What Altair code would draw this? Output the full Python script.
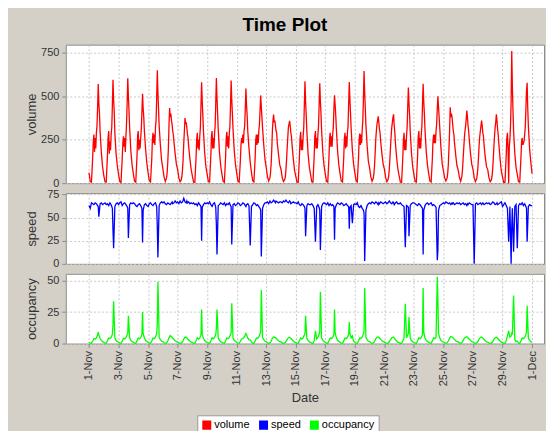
import altair as alt
import pandas as pd

# sample hours within each day (Nov 2010)
HOURS_VOLUME = [0, 2, 4, 6, 7, 8, 9, 10, 11, 12, 13, 14, 15, 16, 17, 18, 20, 22]
HOURS = [0, 2, 4, 6, 8, 10, 12, 14, 15, 16, 18, 20, 22]

VOLUME = [
    [60, 10, 5, 150, 240, 280, 180, 260, 200, 290, 330, 440, 570, 460, 400, 300, 180, 95],
    [45, 8, 6, 160, 260, 300, 170, 240, 190, 280, 320, 450, 595, 480, 410, 290, 170, 100],
    [50, 10, 4, 145, 230, 270, 210, 260, 180, 270, 340, 460, 603, 500, 420, 320, 185, 105],
    [55, 12, 6, 155, 270, 300, 190, 250, 200, 260, 310, 410, 515, 430, 380, 300, 195, 115],
    [60, 15, 7, 140, 250, 290, 230, 280, 220, 320, 360, 490, 650, 520, 430, 330, 220, 130],
    [85, 35, 10, 30, 60, 120, 200, 330, 432, 380, 400, 360, 340, 300, 280, 240, 170, 110],
    [80, 30, 8, 20, 40, 80, 140, 230, 300, 375, 340, 350, 320, 280, 260, 210, 140, 80],
    [40, 6, 5, 150, 250, 290, 200, 250, 190, 270, 320, 450, 580, 470, 390, 300, 175, 95],
    [50, 9, 6, 160, 270, 300, 200, 260, 200, 280, 330, 460, 605, 490, 400, 310, 180, 100],
    [52, 10, 5, 150, 260, 295, 210, 270, 200, 285, 330, 450, 590, 480, 400, 315, 190, 110],
    [58, 12, 6, 130, 220, 260, 230, 280, 230, 300, 330, 430, 545, 450, 390, 300, 200, 120],
    [62, 14, 7, 145, 250, 280, 220, 280, 230, 300, 340, 420, 505, 440, 380, 320, 220, 135],
    [90, 38, 12, 30, 60, 110, 190, 300, 360, 395, 350, 360, 330, 300, 290, 230, 165, 105],
    [80, 32, 9, 20, 35, 75, 130, 200, 260, 320, 340, 358, 330, 290, 270, 220, 140, 75],
    [40, 6, 5, 155, 260, 295, 190, 250, 190, 270, 320, 455, 587, 470, 390, 300, 170, 95],
    [50, 8, 6, 160, 270, 300, 200, 260, 200, 280, 330, 450, 575, 475, 400, 305, 175, 100],
    [52, 10, 6, 150, 260, 290, 210, 270, 210, 280, 320, 430, 505, 450, 390, 310, 185, 105],
    [55, 11, 6, 150, 255, 290, 200, 270, 210, 290, 330, 460, 582, 480, 400, 315, 190, 110],
    [60, 14, 7, 145, 250, 285, 220, 280, 230, 310, 360, 490, 645, 520, 430, 335, 215, 125],
    [88, 36, 11, 28, 55, 100, 170, 250, 300, 340, 360, 385, 350, 310, 290, 240, 170, 110],
    [82, 33, 9, 20, 40, 80, 140, 210, 270, 320, 350, 380, 396, 330, 290, 230, 145, 80],
    [42, 7, 5, 150, 250, 290, 190, 250, 190, 270, 320, 440, 550, 460, 390, 300, 175, 95],
    [50, 9, 6, 155, 265, 300, 200, 260, 200, 280, 330, 455, 572, 470, 400, 310, 185, 105],
    [55, 11, 6, 140, 240, 280, 230, 280, 230, 300, 340, 430, 500, 440, 380, 320, 200, 110],
    [70, 30, 12, 30, 60, 110, 200, 300, 437, 380, 400, 380, 340, 300, 280, 230, 160, 100],
    [75, 32, 10, 40, 80, 140, 200, 260, 300, 330, 370, 418, 380, 330, 300, 250, 170, 110],
    [80, 30, 9, 25, 50, 90, 150, 220, 270, 300, 330, 360, 330, 290, 270, 220, 150, 95],
    [78, 30, 8, 20, 40, 80, 140, 210, 270, 320, 350, 396, 360, 310, 280, 230, 140, 70],
    [35, 5, 5, 160, 260, 290, 200, 0, 210, 250, 330, 470, 760, 560, 420, 300, 170, 90],
    [50, 8, 6, 150, 240, 260, 220, 230, 240, 280, 320, 430, 530, 578, 430, 330, 200, 120],
]
VOLUME_END = 55

SPEED = [
    [63, 60, 66, 65, 64, 66, 65, 63, 62, 51, 65, 66, 64],
    [65, 66, 64, 65, 63, 66, 64, 60, 36, 17, 62, 65, 66],
    [64, 66, 67, 63, 65, 66, 64, 62, 60, 28, 64, 66, 65],
    [66, 65, 63, 62, 64, 65, 63, 60, 23, 58, 64, 65, 63],
    [62, 65, 66, 64, 63, 65, 66, 62, 40, 7, 63, 66, 67],
    [66, 67, 65, 64, 66, 65, 64, 66, 67, 65, 66, 68, 66],
    [67, 65, 68, 66, 67, 71, 67, 66, 68, 66, 67, 65, 66],
    [65, 66, 64, 65, 63, 66, 64, 62, 25, 61, 64, 66, 65],
    [66, 65, 67, 64, 62, 65, 66, 61, 42, 10, 63, 64, 66],
    [65, 64, 66, 63, 65, 64, 66, 63, 62, 21, 64, 65, 63],
    [64, 66, 65, 63, 64, 66, 65, 63, 62, 64, 65, 63, 20],
    [62, 64, 66, 65, 63, 64, 62, 60, 58, 8, 60, 64, 66],
    [66, 67, 65, 68, 66, 67, 69, 67, 66, 68, 67, 66, 67],
    [67, 66, 68, 67, 69, 67, 66, 68, 67, 65, 66, 67, 66],
    [66, 65, 67, 64, 63, 65, 64, 62, 60, 30, 63, 65, 64],
    [64, 65, 63, 60, 24, 62, 64, 61, 58, 15, 62, 65, 66],
    [65, 64, 66, 63, 65, 63, 64, 62, 26, 60, 64, 66, 65],
    [64, 66, 65, 63, 64, 65, 63, 62, 38, 61, 63, 44, 64],
    [65, 64, 66, 62, 61, 63, 60, 58, 55, 3, 58, 63, 65],
    [66, 65, 67, 66, 65, 67, 66, 64, 66, 65, 67, 66, 65],
    [66, 67, 65, 66, 68, 66, 65, 67, 66, 64, 66, 67, 65],
    [65, 66, 64, 63, 62, 18, 63, 62, 61, 30, 63, 65, 66],
    [66, 65, 64, 63, 65, 64, 62, 60, 10, 58, 63, 65, 66],
    [64, 65, 66, 63, 64, 63, 61, 4, 15, 58, 63, 64, 65],
    [66, 65, 67, 66, 65, 66, 64, 66, 65, 66, 64, 65, 66],
    [65, 66, 64, 65, 66, 64, 65, 63, 65, 64, 66, 65, 64],
    [64, 0, 65, 66, 64, 65, 66, 64, 65, 66, 64, 65, 66],
    [65, 66, 64, 65, 67, 66, 64, 65, 66, 64, 65, 66, 67],
    [62, 64, 66, 63, 60, 24, 62, 0, 40, 60, 13, 62, 64],
    [17, 63, 65, 64, 66, 63, 65, 62, 60, 24, 62, 64, 63],
]
SPEED_END = 63

OCCUPANCY = [
    [1, 0.3, 0.2, 2, 4, 3.5, 4.5, 7, 9, 7, 4, 2.5, 1.5],
    [1, 0.3, 0.2, 2.2, 4.5, 3.8, 4.8, 7.5, 15, 33.5, 4.5, 2.5, 1.5],
    [1, 0.3, 0.2, 2, 4.2, 3.6, 4.6, 7, 8, 22, 4.5, 2.5, 1.5],
    [1, 0.3, 0.2, 2.1, 4.4, 3.7, 4.7, 7.2, 25, 8, 4.4, 2.6, 1.6],
    [1.1, 0.3, 0.2, 2, 4.3, 3.9, 5, 8, 15, 49, 5, 3, 1.8],
    [1.5, 0.6, 0.2, 0.5, 2, 4.5, 6.4, 5.5, 5, 4.2, 3.2, 2.3, 1.5],
    [1.3, 0.5, 0.2, 0.4, 1.5, 3.5, 5, 5, 4.5, 3.8, 2.8, 1.9, 1.1],
    [0.8, 0.2, 0.2, 2.2, 4.5, 3.6, 4.5, 7, 27, 7.5, 4.2, 2.4, 1.4],
    [1, 0.3, 0.2, 2.3, 4.6, 3.8, 4.8, 7.4, 12, 27, 4.4, 2.5, 1.5],
    [1, 0.3, 0.2, 2.2, 4.5, 3.8, 4.8, 7.4, 8.5, 32, 4.5, 2.6, 1.6],
    [1.2, 0.4, 0.2, 1.8, 3.8, 4, 5, 7, 8, 7, 4.5, 3, 3],
    [1.3, 0.4, 0.2, 2.1, 4.4, 4, 5.2, 7.8, 9, 42.5, 5, 3, 1.8],
    [1.6, 0.6, 0.2, 0.5, 1.8, 4.2, 5.2, 5, 4.7, 4.2, 3.2, 2.3, 1.5],
    [1.3, 0.5, 0.2, 0.4, 1.4, 3.2, 4.6, 5, 4.7, 4, 3, 2, 1.1],
    [0.8, 0.2, 0.2, 2.2, 4.5, 3.6, 4.5, 7, 8, 22, 4.2, 2.4, 1.4],
    [1, 0.3, 0.2, 2.3, 10, 3.8, 4.8, 7.4, 9, 41, 4.4, 2.5, 1.5],
    [1, 0.3, 0.2, 2.2, 4.5, 3.8, 4.8, 7.4, 27, 8.5, 4.5, 2.6, 1.6],
    [1.1, 0.3, 0.2, 2.1, 4.4, 3.8, 4.9, 7.5, 17, 8, 4.5, 6, 1.7],
    [1.2, 0.4, 0.2, 2, 4.3, 4, 5.2, 7.8, 10, 44, 5, 3, 1.8],
    [1.6, 0.6, 0.2, 0.5, 1.8, 3.8, 5, 5.3, 5, 4.4, 3.3, 2.3, 1.5],
    [1.3, 0.5, 0.2, 0.4, 1.4, 3.2, 4.5, 5, 5.2, 4.3, 3, 2, 1.1],
    [0.8, 0.2, 0.2, 2.2, 4.5, 31.5, 4.5, 7, 8, 21, 4.2, 2.4, 1.4],
    [1, 0.3, 0.2, 2.3, 4.6, 3.8, 4.8, 7.4, 44, 9, 4.4, 2.5, 1.5],
    [1.1, 0.3, 0.2, 2.1, 4.4, 3.9, 5, 53, 35, 8, 4.5, 2.6, 1.6],
    [1.2, 0.5, 0.2, 0.6, 2, 4.3, 5.5, 5.2, 4.8, 4.3, 3.3, 2.3, 1.5],
    [1.3, 0.5, 0.2, 0.8, 2.5, 4.2, 5, 5.4, 5, 4.4, 3.4, 2.4, 1.5],
    [1.4, 0.5, 0.2, 0.5, 1.7, 3.8, 4.8, 5.2, 4.9, 4.3, 3.2, 2.2, 1.4],
    [1.2, 0.4, 0.2, 0.4, 1.4, 3.3, 4.6, 5, 4.8, 4.2, 3, 2, 1.1],
    [0.8, 0.2, 0.2, 2.2, 6, 10, 5, 6, 8, 7, 38, 3, 1.5],
    [2, 0.3, 0.2, 2.2, 4.5, 3.8, 4.8, 7.4, 9, 30, 4.4, 2.5, 1.5],
]
OCCUPANCY_END = 1

SERIES = ["volume", "speed", "occupancy"]
COLORS = ["#ff0000", "#0000ff", "#00ff00"]
TICK_DATES = [(11, d) for d in [1, 3, 5, 7, 9, 11, 13, 15, 17, 19, 21, 23, 25, 27, 29]] + [(12, 1)]

FONT = "Liberation Sans"
PLOT_W = 480
# filled-looking square legend swatch made of stacked stroked lines
SWATCH = "".join(f"M-1,{y / 10}H1" for y in range(-9, 10, 2))


def frame(name, days, end, hours):
    rows = []
    for i, vals in enumerate(days):
        for h, v in zip(hours, vals):
            rows.append({"t": pd.Timestamp(2010, 11, i + 1, h), "v": v, "s": name})
    rows.append({"t": pd.Timestamp(2010, 12, 1, 0), "v": end, "s": name})
    return pd.DataFrame(rows)


x_scale = alt.Scale(domain=[
    alt.DateTime(year=2010, month=10, date=30, hours=10, minutes=16),
    alt.DateTime(year=2010, month=12, date=1, hours=19, minutes=26),
])
tick_vals = [alt.DateTime(year=2010, month=m, date=d) for m, d in TICK_DATES]

color_scale = alt.Scale(domain=SERIES, range=COLORS)
legend = alt.Legend(
    title=None, orient="none", legendX=132, legendY=372, direction="horizontal",
    symbolType=SWATCH, symbolSize=81, symbolStrokeWidth=1.3,
    fillColor="white", strokeColor="#9a9a9a", padding=4,
    labelFont=FONT, labelFontSize=11, labelColor="#000000", labelOffset=2,
    columnPadding=6,
)


def panel(df, name, height, ymax, yticks, bottom):
    if bottom:
        xaxis = alt.Axis(values=tick_vals, format="%-d-%b", labelAngle=270,
                         labelFontSize=11, labelPadding=3, tickSize=4,
                         title="Date", titleFontSize=13, titlePadding=6,
                         grid=True, domain=False, labelFlush=False)
    else:
        xaxis = alt.Axis(values=tick_vals, labels=False, ticks=False, domain=False,
                         title=None, grid=True)
    return alt.Chart(df).mark_line().encode(
        x=alt.X("t:T", scale=x_scale, axis=xaxis),
        y=alt.Y("v:Q", scale=alt.Scale(domain=[0, ymax], nice=False, zero=True),
                axis=alt.Axis(values=yticks, title=name, titleX=-30, titleY=height / 2,
                              titleAngle=270, titleBaseline="alphabetic",
                              titleFontSize=13, labelFontSize=11, tickSize=4,
                              labelPadding=3, domain=False, grid=True)),
        color=alt.Color("s:N", scale=color_scale, legend=legend),
    ).properties(width=PLOT_W, height=height)


vol = panel(frame("volume", VOLUME, VOLUME_END, HOURS_VOLUME), "volume", 139, 797,
            [0, 250, 500, 750], False)
spd = panel(frame("speed", SPEED, SPEED_END, HOURS), "speed", 71, 76.5,
            [0, 25, 50, 75], False)
occ = panel(frame("occupancy", OCCUPANCY, OCCUPANCY_END, HOURS), "occupancy", 70, 55.3,
            [0, 25, 50], True)

chart = alt.vconcat(vol, spd, occ, spacing=10, bounds="flush").resolve_scale(
    x="independent", y="independent", color="shared"
).properties(
    title=alt.TitleParams("Time Plot", font=FONT, fontSize=19, fontWeight="bold",
                          color="#000000", anchor="middle", offset=-6,
                          baseline="alphabetic"),
    background="#D4D0C8",
    padding={"left": 17, "top": 7, "right": 1, "bottom": 2},
).configure_view(
    stroke="#8c8c8c", fill="white"
).configure_line(
    strokeWidth=1.3
).configure_axis(
    labelFont=FONT, titleFont=FONT, labelColor="#333333", titleColor="#333333",
    titleFontWeight="normal", gridColor="#c8c8c8", gridDash=[2, 2],
    tickColor="#8c8c8c",
)

chart.save("out.html", embed_options={"renderer": "svg", "actions": False})
